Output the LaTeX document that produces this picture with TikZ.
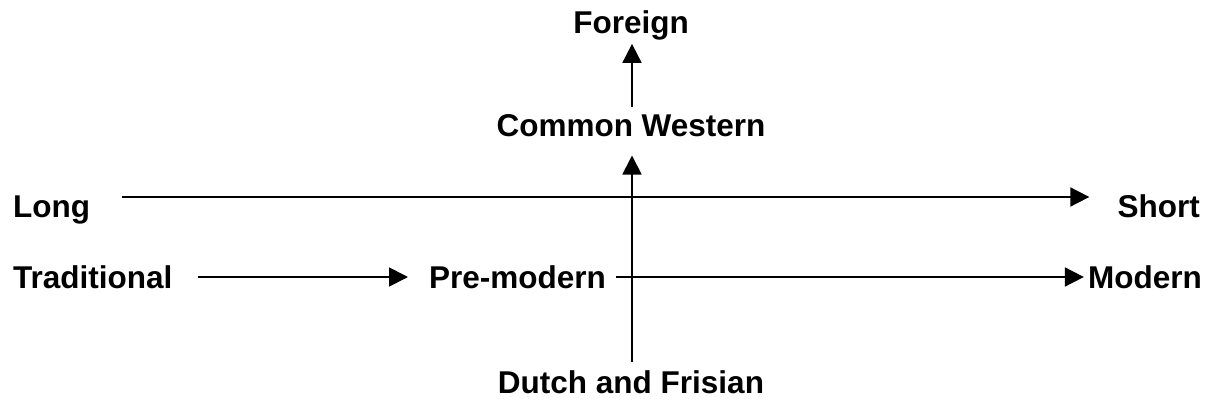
\documentclass[tikz,border=0pt]{standalone}
\usepackage{fontspec}
\setmainfont{Liberation Sans}
\usetikzlibrary{arrows.meta}
\tikzset{
  lbl/.style={inner sep=0pt, font=\fontsize{31.5}{36}\selectfont\bfseries},
  arr/.style={line width=1.8pt, -{Triangle[length=19pt,width=19pt]}}
}
\begin{document}
\begin{tikzpicture}[x=1pt,y=-1pt]
    \useasboundingbox (0,0) rectangle (1211,404);
    % labels
    \node[lbl, anchor=base] (foreign) at (631,34) {Foreign};
    \node[lbl, anchor=base] (common) at (631,136) {Common Western};
    \node[lbl, anchor=base west] (long) at (13,217) {Long};
    \node[lbl, anchor=base east] (short) at (1200,217) {Short};
    \node[lbl, anchor=base west] (trad) at (13,288) {Traditional};
    \node[lbl, anchor=base west] (premod) at (429,288) {Pre-modern};
    \node[lbl, anchor=base east] (modern) at (1202,288) {Modern};
    \node[lbl, anchor=base] (dutch) at (631,393) {Dutch and Frisian};
    % free ends of the vertical axis
    \coordinate (vtop) at ([xshift=1pt,yshift=-19pt]common.south);
    \coordinate (vbot) at (632,362);
    % arrows
    \draw[arr] ([xshift=32pt,yshift=20pt]long.base east) -- ([xshift=-28pt,yshift=20pt]short.base west);
    \draw[arr] ([xshift=25pt,yshift=11pt]trad.base east) -- ([xshift=-21pt,yshift=11pt]premod.base west);
    \draw[arr] ([xshift=10pt,yshift=11pt]premod.base east) -- ([xshift=-4pt,yshift=11pt]modern.base west);
    \draw[arr] (vbot) -- (vtop);
    \draw[arr] ([xshift=1pt,yshift=7pt]common.north) -- ([xshift=1pt,yshift=-3pt]foreign.south);
\end{tikzpicture}
\end{document}
